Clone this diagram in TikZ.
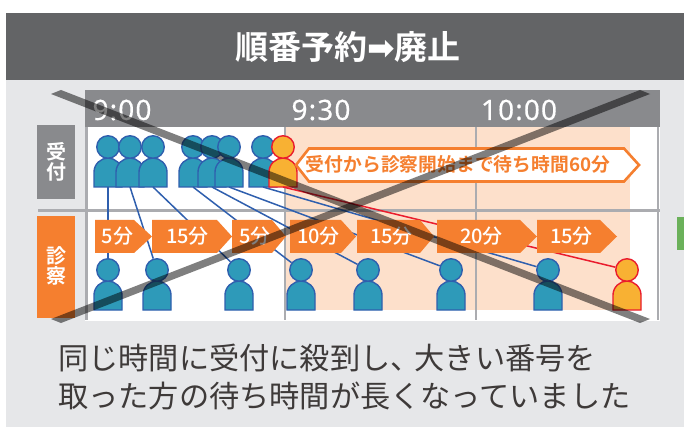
\documentclass[tikz,border=0pt]{standalone}
\usepackage{fontspec}
\setmainfont{Noto Sans CJK JP}[BoldFont={Noto Sans CJK JP Bold}]
\newfontfamily\medfont{Noto Sans CJK JP Medium}
\newfontfamily\symfont{DejaVu Sans}
\newfontfamily\timefont{Noto Sans}[LetterSpace=4,FakeBold=0.4]
\definecolor{panel}{HTML}{E6E7E9}
\definecolor{titlegray}{HTML}{636466}
\definecolor{headgray}{HTML}{898A8D}
\definecolor{linegray}{HTML}{ABACB0}
\definecolor{peach}{HTML}{FDE0CB}
\definecolor{orangeC}{HTML}{F57F2F}
\definecolor{tealC}{HTML}{2E9AB9}
\definecolor{blueC}{HTML}{2F5FAE}
\definecolor{yelC}{HTML}{F8B133}
\definecolor{redC}{HTML}{EA1C2D}
\definecolor{greenC}{HTML}{6BB15A}
\definecolor{txt}{HTML}{3E3A39}
\tikzset{
  gridline/.style={draw=linegray,line width=2.2pt},
  blueline/.style={draw=blueC,line width=1.5pt},
  redline/.style={draw=redC,line width=1.5pt},
  bluep/.style={fill=tealC,draw=blueC,line width=1.4pt},
  redp/.style={fill=yelC,draw=redC,line width=1.4pt},
  timelabel/.style={text=white,font=\timefont\fontsize{28}{28}\selectfont,inner sep=0pt},
  sidelabel/.style={text=white,font=\bfseries\fontsize{20}{20}\selectfont,align=center,inner sep=0pt},
  mins/.style={text=white,font=\medfont\fontsize{20}{20}\selectfont,inner sep=0pt},
  cross/.style={fill=black,fill opacity=.5},
  bottomtext/.style={text=txt,font=\fontsize{30.2}{30.2}\selectfont,inner sep=0pt,anchor=west},
}
% name, x, head y, style
\newcommand{\person}[4]{%
  \path[#4] (#2-14,#3+40) -- (#2-14,#3+25)
     .. controls (#2-14,#3+17) and (#2-7,#3+11) .. (#2,#3+11)
     .. controls (#2+7,#3+11) and (#2+14,#3+17) .. (#2+14,#3+25)
     -- (#2+14,#3+40) -- cycle;
  \node[circle,minimum size=22.5pt,inner sep=0pt,#4] (#1) at (#2,#3) {};
  \coordinate (#1f) at (#2,#3+40);
}
% name, left, body end, tip, text
\newcommand{\minsarrow}[5]{%
  \fill[orangeC] (#2,220) -- (#3,220) -- (#4,236.5) -- (#3,253) -- (#2,253) -- cycle;
  \node[mins] (#1) at ({(#2+#3)/2+3},236) {#5};
}
\begin{document}
\begin{tikzpicture}[x=1pt,y=-1pt]
\useasboundingbox (0,0) rectangle (684,427);
\fill[white] (0,0) rectangle (684,427);
\fill[panel] (6,13) rectangle (684,427);
\fill[titlegray] (6,13) rectangle (684,80);
\node[text=white,font=\bfseries\fontsize{33}{33}\selectfont,inner sep=0pt] (title) at (348,47) {順番予約{\symfont ➡}廃止};
\fill[white] (85,127) rectangle (660,321);
\fill[peach] (284,127) rectangle (630,310);
\fill[headgray] (85,90) rectangle (660,127);
\foreach \x in {86.5,285,476,658} \draw[gridline] (\x,127) -- (\x,320);
\draw[gridline] (38,210.5) -- (660,210.5);
\node[timelabel] (t0) at (122,110) {9:00};
\node[timelabel] (t1) at (321,110) {9:30};
\node[timelabel] (t2) at (519,110) {10:00};
\fill[headgray] (37,125) rectangle (75,199);
\node[sidelabel] (uke) at (56,161.5) {受\\付};
\fill[orangeC] (37,216) rectangle (75,318);
\node[sidelabel] (shin) at (56,266) {診\\察};
% bottom persons
\person{b1}{108}{270}{bluep}
\person{b2}{157}{270}{bluep}
\person{b3}{239}{270}{bluep}
\person{b4}{301}{270}{bluep}
\person{b5}{368}{270}{bluep}
\person{b6}{451}{270}{bluep}
\person{b7}{548}{270}{bluep}
\person{b8}{627}{270}{redp}
% top persons
\person{a1}{108}{147}{bluep}
\person{a2}{130}{147}{bluep}
\person{a3}{153}{147}{bluep}
\person{a4}{193}{147}{bluep}
\person{a5}{212}{147}{bluep}
\person{a6}{229}{147}{bluep}
\person{a7}{263}{147}{bluep}
\person{a8}{283}{147}{redp}
% connectors
\draw[blueline] (a1f) -- (b1);
\draw[blueline] (a2f) -- (b2);
\draw[blueline] (a3f) -- (b3);
\draw[blueline] (a4f) -- (b4);
\draw[blueline] (a5f) -- (b5);
\draw[blueline] (a6f) -- (b6);
\draw[blueline] (a7f) -- (b7);
\draw[redline] (a8f) -- (b8);
% callout
\draw[orangeC,fill=white,line width=2.6pt,line join=miter] (309,148.5) -- (624,148.5) -- (639,165) -- (624,181.5) -- (309,181.5) -- (296,165) -- cycle;
\node[text=orangeC,font=\bfseries\fontsize{18.8}{18.8}\selectfont,inner sep=0pt] (wait) at (458,164.5) {受付から診察開始まで待ち時間60分};
% minute arrows
\minsarrow{m1}{95}{134}{152}{5分}
\minsarrow{m2}{152}{217}{232}{15分}
\minsarrow{m3}{232}{272}{286}{5分}
\minsarrow{m4}{290}{341}{356}{10分}
\minsarrow{m5}{357}{420}{434}{15分}
\minsarrow{m6}{437}{520}{537}{20分}
\minsarrow{m7}{537}{600}{617}{15分}
\fill[greenC] (677,217) rectangle (684,250);
% cross
\fill[cross] (51,94) -- (61,90) -- (650,319) -- (640,323) -- cycle;
\fill[cross] (640,90) -- (650,94) -- (61,323) -- (51,319) -- cycle;
% bottom text
\node[bottomtext] (l1) at (58,358) {同じ時間に受付に殺到し、\kern-6pt 大きい番号を};
\node[bottomtext] (l2) at (58,396) {取った方の待ち時間が長くなっていました};
\end{tikzpicture}
\end{document}
